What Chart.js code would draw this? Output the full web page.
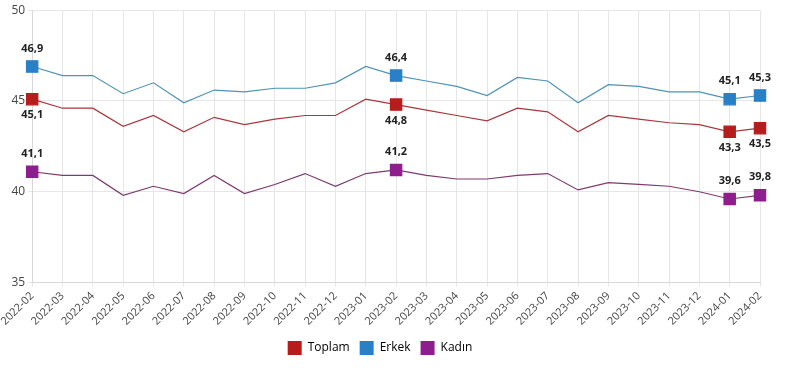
<!DOCTYPE html>
<html><head><meta charset="utf-8">
<script src="https://cdn.jsdelivr.net/npm/chart.js@4"></script>
<style>html,body{margin:0;padding:0;background:#fff}#wrap{width:800px;height:371px}</style>
</head><body><div id="wrap"><canvas id="c"></canvas></div>
<script>
const categories = ["2022-02","2022-03","2022-04","2022-05","2022-06","2022-07","2022-08","2022-09","2022-10","2022-11","2022-12","2023-01","2023-02","2023-03","2023-04","2023-05","2023-06","2023-07","2023-08","2023-09","2023-10","2023-11","2023-12","2024-01","2024-02"];
const toplam = [45.1,44.6,44.6,43.6,44.2,43.3,44.1,43.7,44.0,44.2,44.2,45.1,44.8,44.5,44.2,43.9,44.6,44.4,43.3,44.2,44.0,43.8,43.7,43.3,43.5];
const erkek  = [46.9,46.4,46.4,45.4,46.0,44.9,45.6,45.5,45.7,45.7,46.0,46.9,46.4,46.1,45.8,45.3,46.3,46.1,44.9,45.9,45.8,45.5,45.5,45.1,45.3];
const kadin  = [41.1,40.9,40.9,39.8,40.3,39.9,40.9,39.9,40.4,41.0,40.3,41.0,41.2,40.9,40.7,40.7,40.9,41.0,40.1,40.5,40.4,40.3,40.0,39.6,39.8];
const highlighted = [0,12,23,24];
const yTicks = [35,40,45,50];

const radii = categories.map((_,i)=>highlighted.includes(i)?8:0);
function ds(label,data,line,fill,pos){
  return {label,data,borderColor:line,backgroundColor:fill,borderWidth:1.2,
    pointStyle:'rect',pointRadius:radii,pointHoverRadius:radii,pointBackgroundColor:fill,pointBorderColor:fill,
    tension:0,labelPos:pos};
}
const labelPlugin = {
  id:'lbl',
  afterDatasetsDraw(chart){
    const ctx=chart.ctx;
    ctx.save();
    ctx.font='bold 11px "Open Sans", Arial, sans-serif';
    ctx.fillStyle='#222';
    ctx.textAlign='center';
    ctx.textBaseline='middle';
    chart.data.datasets.forEach((d,di)=>{
      const meta=chart.getDatasetMeta(di);
      highlighted.forEach(i=>{
        const p=meta.data[i];
        const off = d.labelPos==='below'?16:-18;
        ctx.fillText(String(d.data[i]).replace('.',',').replace(/^(\d+)$/,'$1,0'),p.x,p.y+off);
      });
    });
    ctx.restore();
  }
};
new Chart(document.getElementById('c'),{
  type:'line',
  data:{labels:categories,datasets:[
    ds('Toplam',toplam,'#a8383c','#b71c1c','below'),
    ds('Erkek',erkek,'#4f93b5','#2a80c6','above'),
    ds('Kadın',kadin,'#7e3a70','#8e1e8e','above')
  ]},
  options:{
    responsive:true,maintainAspectRatio:false,animation:false,
    layout:{padding:{left:0,right:40,top:4,bottom:6}},
    plugins:{
      legend:{position:'bottom',labels:{boxWidth:14,boxHeight:14,color:'#333',font:{size:12,family:'"Open Sans", Arial, sans-serif'},padding:10,
        generateLabels(chart){return chart.data.datasets.map((d,i)=>({text:d.label,fillStyle:d.backgroundColor,strokeStyle:d.backgroundColor,lineWidth:0,datasetIndex:i}));}}},
      tooltip:{enabled:false}
    },
    scales:{
      x:{grid:{color:'#e6e6e6',drawTicks:true,tickLength:4},border:{color:'#d8d8d8'},
        ticks:{color:'#444',maxRotation:45,minRotation:45,autoSkip:false,font:{size:11,family:'"Open Sans", Arial, sans-serif'}}},
      y:{min:35,max:50,afterBuildTicks(s){s.ticks=yTicks.map(v=>({value:v}));},
        grid:{color:'#e6e6e6',tickLength:4},border:{color:'#d8d8d8'},
        ticks:{color:'#444',font:{size:12,family:'"Open Sans", Arial, sans-serif'}}}
    }
  },
  plugins:[labelPlugin]
});
</script></body></html>
